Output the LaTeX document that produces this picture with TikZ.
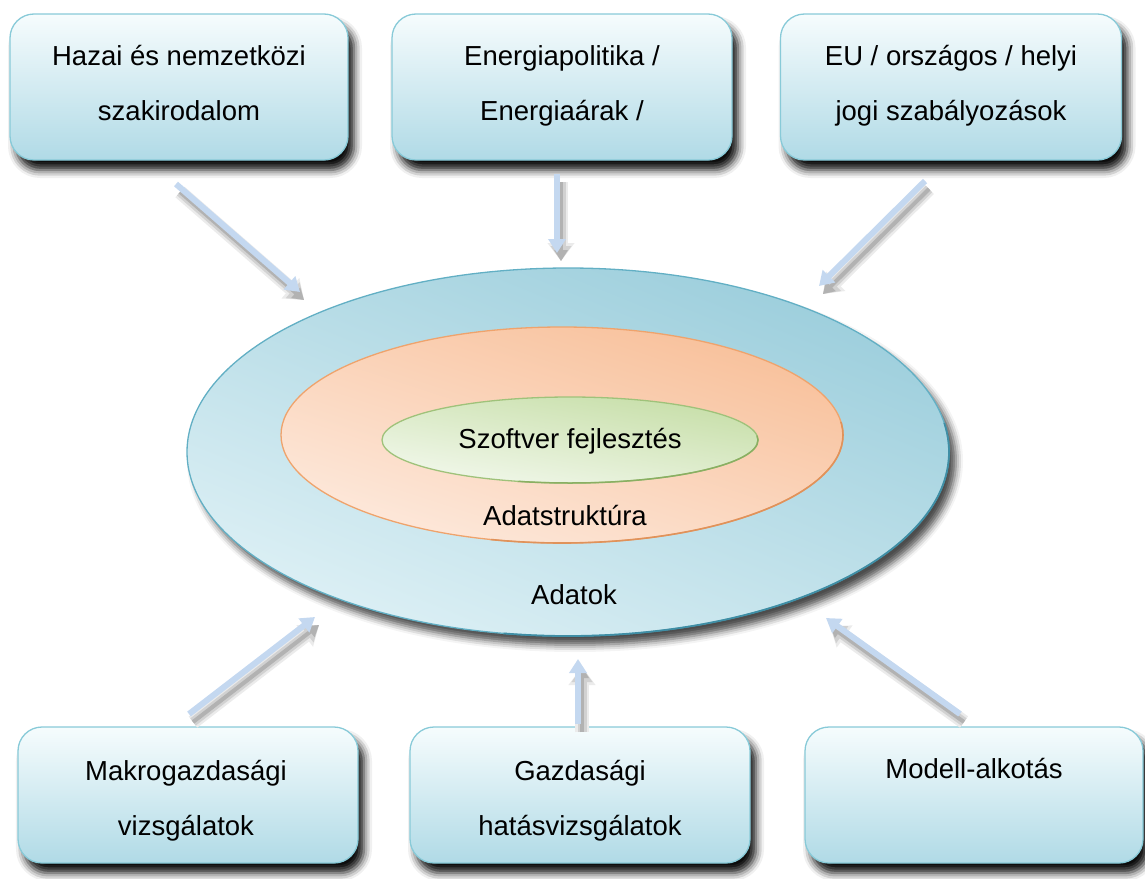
\documentclass[tikz,border=0pt]{standalone}
\usepackage{fontspec}
\setmainfont{Liberation Sans}
\usetikzlibrary{shapes.geometric,shadows.blur,arrows.meta}

\definecolor{boxtop}{HTML}{F6FCFD}
\definecolor{boxbot}{HTML}{B0DAE6}
\definecolor{boxline}{HTML}{88CAD8}
\definecolor{outerA}{HTML}{9CCEDC}
\definecolor{outerB}{HTML}{DDF0F5}
\definecolor{outerline}{HTML}{62AFC4}
\definecolor{outerdark}{HTML}{3F8EA5}
\definecolor{orA}{HTML}{F8C09A}
\definecolor{orB}{HTML}{FDE9DC}
\definecolor{orline}{HTML}{EFA36C}
\definecolor{ordark}{HTML}{E0925A}
\definecolor{grA}{HTML}{C6DEA7}
\definecolor{grB}{HTML}{F2F8EC}
\definecolor{grline}{HTML}{9FC27A}
\definecolor{grdark}{HTML}{8AAF62}
\definecolor{arr}{HTML}{C4D8F0}

\newcommand\lnstrut{\rule[-8.25pt]{0pt}{27.5pt}}

\begin{document}
\begin{tikzpicture}[x=1pt,y=-1pt,
  srcbox/.style={rectangle, rounded corners=24pt, draw=boxline, line width=1.3pt,
    top color=boxtop, bottom color=boxbot, minimum width=338pt, minimum height=146pt,
    inner sep=0pt,
    blur shadow={shadow xshift=6pt, shadow yshift=-10pt, shadow blur radius=8pt, shadow opacity=95}},
  boxtext/.style={align=center, inner sep=0pt, font=\fontsize{27.5}{55}\selectfont},
  ring/.style={ellipse, inner sep=0pt, line width=1.3pt},
  lbl/.style={font=\fontsize{27.5}{30}\selectfont},
  shadowA/.style={draw=black!8, line width=14pt, -{Triangle[width=26pt,length=18pt]}},
  shadowB/.style={draw=black!18, line width=9pt, -{Triangle[width=20pt,length=15pt]}},
  shadowC/.style={draw=black!30, line width=4pt, -{Triangle[width=13pt,length=11pt]}},
  arrowline/.style={draw=arr, line width=6pt, -{Triangle[width=17pt,length=14pt]}}
]
\useasboundingbox (0,0) rectangle (1145,878);

% source boxes
\node[srcbox] (b1) at (179,87) {};
\node[srcbox, minimum width=340pt] (b2) at (562,87) {};
\node[srcbox, minimum width=341pt] (b3) at (951,87) {};
\node[srcbox, minimum width=340pt, minimum height=136pt] (b4) at (188,795) {};
\node[srcbox, minimum width=340pt, minimum height=136pt] (b5) at (580,795) {};
\node[srcbox, minimum width=338pt, minimum height=136pt] (b6) at (974,795) {};

\node[boxtext] (b1t) at (179,87) {\lnstrut Hazai és nemzetközi\\\lnstrut szakirodalom};
\node[boxtext] (b2t) at (562,87) {\lnstrut Energiapolitika /\\\lnstrut Energiaárak /};
\node[boxtext] (b3t) at (951,87) {\lnstrut EU / országos / helyi\\\lnstrut jogi szabályozások};
\node[boxtext] (b4t) at (186,802) {\lnstrut Makrogazdasági\\\lnstrut vizsgálatok};
\node[boxtext] (b5t) at (580,802) {\lnstrut Gazdasági\\\lnstrut hatásvizsgálatok};
\node[boxtext] (b6t) at (974,800) {\lnstrut Modell-alkotás\\\lnstrut};

% rings
\node[ring, draw=outerline, top color=outerA, bottom color=outerB, shading angle=-22,
  minimum width=762pt, minimum height=368pt,
  blur shadow={shadow xshift=7pt, shadow yshift=-9pt, shadow blur radius=7pt, shadow opacity=70}]
  (outer) at (568,452) {};
\begin{scope}
  \clip (568,452) -- (980,420) -- (1000,700) -- (480,700) -- cycle;
  \draw[outerdark, line width=1.8pt] (outer.center) ellipse [x radius=381pt, y radius=184pt];
\end{scope}

\node[ring, draw=orline, top color=orA, bottom color=orB, shading angle=-18,
  minimum width=562pt, minimum height=216pt] (mid) at (562,435) {};
\begin{scope}
  \clip (562,435) -- (880,420) -- (900,600) -- (450,600) -- cycle;
  \draw[ordark, line width=1.6pt] (mid.center) ellipse [x radius=281pt, y radius=108pt];
\end{scope}

\node[ring, draw=grline, top color=grA, bottom color=grB, shading angle=-10,
  minimum width=376pt, minimum height=86pt] (inner) at (570,440) {};
\begin{scope}
  \clip (570,440) -- (780,435) -- (780,520) -- (470,520) -- cycle;
  \draw[grdark, line width=1.5pt] (inner.center) ellipse [x radius=188pt, y radius=43pt];
\end{scope}

\node[lbl] (t1) at (570,441) {Szoftver fejlesztés};
\node[lbl] (t2) at (565,516) {Adatstruktúra};
\node[lbl] (t3) at (574,595) {Adatok};

% arrow end points
\coordinate (a1s) at (176,184); \coordinate (a1e) at (300,292);
\coordinate (a2s) at (557,174); \coordinate (a2e) at (557,253);
\coordinate (a3s) at (925,181); \coordinate (a3e) at (819,286);
\coordinate (a4s) at (189,714); \coordinate (a4e) at (315,617);
\coordinate (a5s) at (578,724); \coordinate (a5e) at (578,659);
\coordinate (a6s) at (960,714); \coordinate (a6e) at (826,618);

\begin{scope}[transform canvas={shift={(4pt,-8pt)}}]
  \foreach \s/\e in {a1s/a1e,a2s/a2e,a3s/a3e,a4s/a4e,a5s/a5e,a6s/a6e}{
    \draw[shadowA] (\s) -- (\e);
    \draw[shadowB] (\s) -- (\e);
    \draw[shadowC] (\s) -- (\e);
  }
\end{scope}

\draw[arrowline] (a1s) -- (a1e);
\draw[arrowline] (a2s) -- (a2e);
\draw[arrowline] (a3s) -- (a3e);
\draw[arrowline] (a4s) -- (a4e);
\draw[arrowline] (a5s) -- (a5e);
\draw[arrowline] (a6s) -- (a6e);
\end{tikzpicture}
\end{document}
